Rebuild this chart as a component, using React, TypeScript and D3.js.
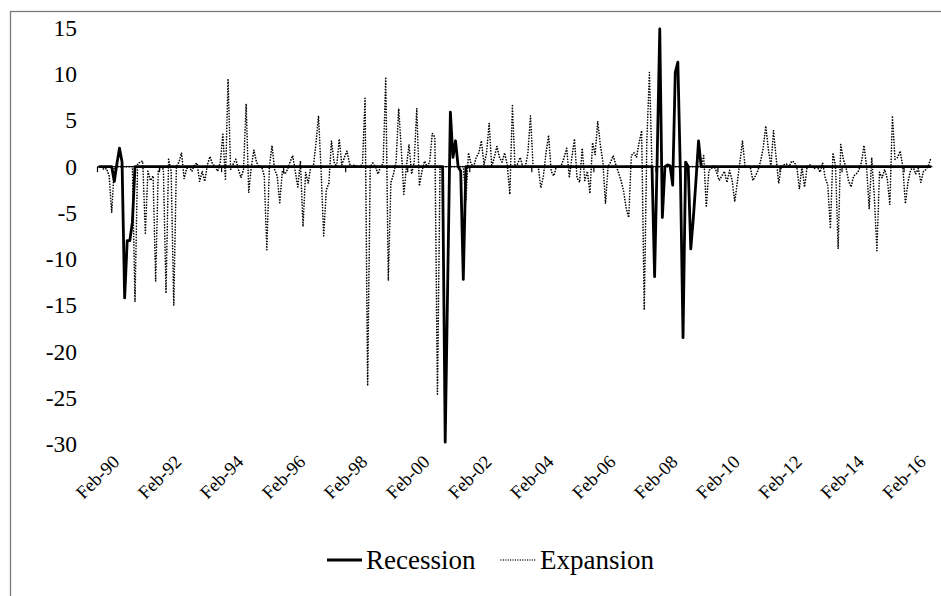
import React from "react";
import * as d3 from "d3";

const tickLabels = [
  "Feb-90", "Feb-92", "Feb-94", "Feb-96", "Feb-98", "Feb-00", "Feb-02",
  "Feb-04", "Feb-06", "Feb-08", "Feb-10", "Feb-12", "Feb-14", "Feb-16",
];
const monthsPerTick = 24;
const yTicks = [15, 10, 5, 0, -5, -10, -15, -20, -25, -30];

// monthly values, Feb-1990 onward
const expansion = [
  0, 0, -0.3, -0.2, -1.0, -5.0, 0, 0, 0, 0,
  0, 0, 0, 0, -14.6, 0.3, 0.5, 0.6, -7.2, -0.5,
  -1.5, -1.0, -12.4, -0.5, 0, -0.3, -13.7, 0.8, -0.5, -15.0,
  0, 0.5, 1.5, -1.3, -0.2, 0, -0.5, 0.2, 0.4, -1.6,
  -0.5, -1.6, 0.2, 1.1, 0.3, 0, -0.5, 0.5, 3.5, -1.5,
  9.5, -0.3, 0.3, 0.8, -0.3, -1.2, -0.3, 6.8, -2.8, 0,
  1.8, 0.5, 0, 0, -1.0, -9.0, 0, 2.3, -0.3, -1.0,
  -3.9, -0.5, -0.8, -0.3, 0.5, 1.2, -0.5, -2.2, 0.6, -6.5,
  -0.6, -1.8, 0, 0, 2.5, 5.5, -0.5, -7.5, -2.5, -1.8,
  2.8, 0.5, 0, 3.0, 0.2, 1.0, 1.7, 0.3, 0, 0.2,
  0, 0, 0.3, 7.4, -23.7, 0, 0.4, 0, -0.8, 0,
  0.3, 9.7, -12.3, -1.7, -0.8, 0.5, 6.3, 2.0, -3.0, 0,
  2.4, -0.8, 0.5, 6.3, -2.1, -0.5, 0.6, 0, 0.5, 3.6,
  3.2, -24.6, 0, 0, 0, 0, 0, 0, 0, 0,
  0, 0, -3.7, 1.5, 0.3, 0, 1.0, 1.5, 2.8, 0.2,
  1.5, 4.7, 0, 1.0, 2.2, 1.0, 0.5, 1.5, 0.2, -3.0,
  6.6, 0, 0.3, 1.0, 0, 0, 1.5, 5.5, 0, 0,
  0, -2.3, -1.0, 1.5, 3.4, -0.5, -1.0, 0, 0, 0.2,
  1.0, 2.0, -1.2, 1.0, 3.0, -1.2, -1.7, 2.0, -1.5, -0.5,
  -2.9, 2.6, 1.3, 4.9, 2.4, 0.5, -4.0, 0, 0.5, 1.2,
  0.2, -0.6, -1.5, -2.6, -4.5, -5.5, 1.2, 1.5, 1.0, 2.6,
  3.9, -15.5, 2.8, 10.2, 0, 0, 0, 0, 0, 0,
  0, 0, 0, 0, 0, 0, 0, 0, 0, 0,
  0, 0, 0, 0, 1.2, -4.4, -0.4, -0.2, 0.1, -0.6,
  -1.5, -1.0, -0.5, -1.7, -0.4, -1.5, -3.8, -1.7, 0.5, 2.8,
  0, 0, 0, -1.5, -1.0, -0.4, 0.6, 2.0, 4.4, 1.9,
  0, 3.9, 1.0, -1.8, 0, 0.2, 0.3, 0, 0.6, 0.5,
  0, -2.4, 0, -2.2, 0, 0.2, 0, -0.2, 0, -0.6,
  0.4, -1.2, -2.0, -6.7, 1.5, 0, -8.9, 2.4, 0.8, 0,
  -1.5, -2.2, -1.0, -0.8, -0.4, 0.5, 2.3, 0, -4.6, 1.0,
  -3.3, -9.1, -0.6, -1.2, -0.3, -1.3, -4.1, 5.5, 0.8, 1.0,
  1.7, 0, -4.0, -1.7, -0.4, 0, -0.8, -0.2, -1.7, -0.5,
  -0.3, 0.2, 1.0,
];

const recession = [
  0, 0, 0, 0, 0, 0, -1.6, 0.3, 2.0, 0.5,
  -14.2, -8.0, -8.0, -6.0, 0, 0, 0, 0, 0, 0,
  0, 0, 0, 0, 0, 0, 0, 0, 0, 0,
  0, 0, 0, 0, 0, 0, 0, 0, 0, 0,
  0, 0, 0, 0, 0, 0, 0, 0, 0, 0,
  0, 0, 0, 0, 0, 0, 0, 0, 0, 0,
  0, 0, 0, 0, 0, 0, 0, 0, 0, 0,
  0, 0, 0, 0, 0, 0, 0, 0, 0, 0,
  0, 0, 0, 0, 0, 0, 0, 0, 0, 0,
  0, 0, 0, 0, 0, 0, 0, 0, 0, 0,
  0, 0, 0, 0, 0, 0, 0, 0, 0, 0,
  0, 0, 0, 0, 0, 0, 0, 0, 0, 0,
  0, 0, 0, 0, 0, 0, 0, 0, 0, 0,
  0, 0, 0, 0, -29.8, -12.0, 5.9, 1.0, 2.8, 0,
  -0.5, -12.2, 0, 0, 0, 0, 0, 0, 0, 0,
  0, 0, 0, 0, 0, 0, 0, 0, 0, 0,
  0, 0, 0, 0, 0, 0, 0, 0, 0, 0,
  0, 0, 0, 0, 0, 0, 0, 0, 0, 0,
  0, 0, 0, 0, 0, 0, 0, 0, 0, 0,
  0, 0, 0, 0, 0, 0, 0, 0, 0, 0,
  0, 0, 0, 0, 0, 0, 0, 0, 0, 0,
  0, 0, 0, 0, 0, -11.9, 1.0, 14.9, -5.5, 0,
  0.2, 0.1, -2.0, 10.2, 11.3, -1.0, -18.5, 0.5, 0, -8.9,
  -5.5, -1.5, 2.8, 0, 0, 0, 0, 0, 0, 0,
  0, 0, 0, 0, 0, 0, 0, 0, 0, 0,
  0, 0, 0, 0, 0, 0, 0, 0, 0, 0,
  0, 0, 0, 0, 0, 0, 0, 0, 0, 0,
  0, 0, 0, 0, 0, 0, 0, 0, 0, 0,
  0, 0, 0, 0, 0, 0, 0, 0, 0, 0,
  0, 0, 0, 0, 0, 0, 0, 0, 0, 0,
  0, 0, 0, 0, 0, 0, 0, 0, 0, 0,
  0, 0, 0, 0, 0, 0, 0, 0, 0, 0,
  0, 0, 0,
];

const seriesNames = ["Recession", "Expansion"];

const FONT = "Liberation Serif";

export default function App() {
  const W = 941;
  const H = 596;
  const n = expansion.length;
  const x = d3.scaleLinear().domain([0, n]).range([97.5, 932.5]);
  const y = d3.scaleLinear().domain([-30, 15]).range([444, 28]);
  const line = d3
    .line<number>()
    .x((_, i) => x(i + 0.5))
    .y((d) => y(d));

  const dotStyle = {
    stroke: "#000",
    strokeWidth: 1.7,
    strokeDasharray: "0.01 2.8",
    strokeLinecap: "round" as const,
  };

  return (
    <svg
      width={W}
      height={H}
      style={{ position: "absolute", left: 0, top: 0, background: "#fff" }}
    >
      <rect x={0} y={0} width={W} height={H} fill="#fff" />
      <rect
        x={10.5}
        y={11.5}
        width={940}
        height={620}
        fill="none"
        stroke="#7a7a7a"
        strokeWidth={1.3}
      />
      {/* y labels */}
      {yTicks.map((t) => (
        <text
          key={t}
          x={77}
          y={y(t)}
          dy="0.34em"
          textAnchor="end"
          fontFamily={FONT}
          fontSize={23.5}
          fill="#000"
        >
          {t}
        </text>
      ))}
      {/* zero axis */}
      <line x1={x(0)} x2={x(n)} y1={y(0)} y2={y(0)} stroke="#000" strokeWidth={1} />
      {tickLabels.map((lab, k) => (
        <line
          key={lab}
          x1={x(k * monthsPerTick)}
          x2={x(k * monthsPerTick)}
          y1={y(0)}
          y2={y(0) + 5.5}
          stroke="#000"
          strokeWidth={1.2}
        />
      ))}
      {/* series */}
      <path d={line(recession) || ""} fill="none" stroke="#000" strokeWidth={2.8} strokeLinejoin="round" />
      <path d={line(expansion) || ""} fill="none" {...dotStyle} />
      {/* x labels */}
      {tickLabels.map((lab, k) => (
        <text
          key={lab}
          transform={`translate(${x(k * monthsPerTick) + 23},${463}) rotate(-45)`}
          textAnchor="end"
          fontFamily={FONT}
          fontSize={18.5}
          fill="#000"
        >
          {lab}
        </text>
      ))}
      {/* legend */}
      <line x1={327} x2={362} y1={560} y2={560} stroke="#000" strokeWidth={3} />
      <text x={366} y={569} fontFamily={FONT} fontSize={27} fill="#000">
        {seriesNames[0]}
      </text>
      <line x1={501} x2={537} y1={560} y2={560} {...dotStyle} strokeWidth={1.3} strokeDasharray="0.01 2.4" />
      <text x={540} y={569} fontFamily={FONT} fontSize={27} fill="#000">
        {seriesNames[1]}
      </text>
    </svg>
  );
}
